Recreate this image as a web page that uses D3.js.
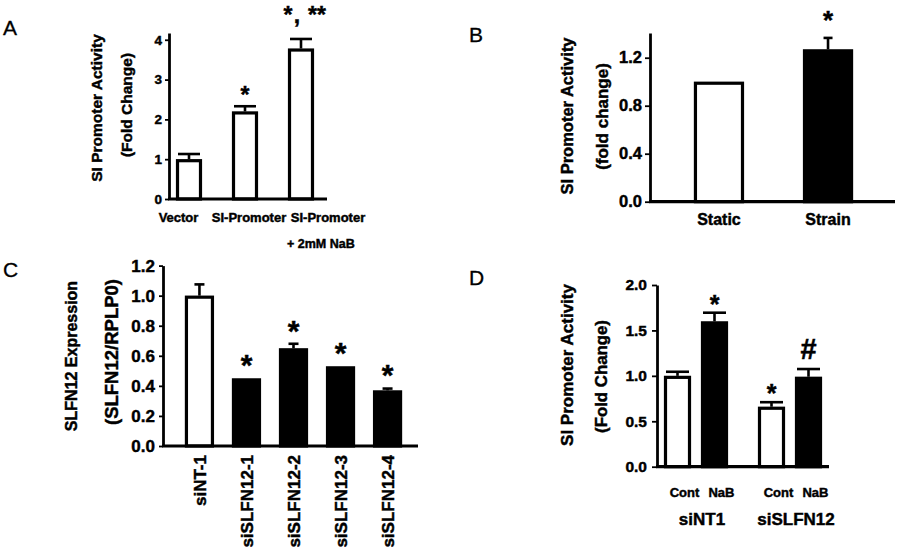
<!DOCTYPE html>
<html><head><meta charset="utf-8">
<script src="https://cdn.jsdelivr.net/npm/d3@7"></script>
<style>
html,body{margin:0;padding:0;background:#fff;}
text{font-family:"Liberation Sans",Arial,sans-serif;fill:#000;}
text.b{stroke:#000;stroke-width:0.45px;}
</style></head>
<body><svg id="chart" width="900" height="553"></svg>
<script>
// ---------- data ----------
// Panel A
const aCategories = ["Vector", "SI-Promoter", "SI-Promoter"];
const aSubLabels = ["", "", "+ 2mM NaB"];
const aValues = [1.0, 2.2, 3.78];
const aErrors = [0.13, 0.13, 0.24];
const aTicks = [0, 1, 2, 3, 4];
const aMarks = ["", "*", "*,**"];
// Panel B
const bCategories = ["Static", "Strain"];
const bValues = [1.0, 1.27];
const bErrors = [0, 0.095];
const bTicks = [0, 0.4, 0.8, 1.2];
const bFills = ["white", "black"];
const bMarks = ["", "*"];
// Panel C
const cCategories = ["siNT-1", "siSLFN12-1", "siSLFN12-2", "siSLFN12-3", "siSLFN12-4"];
const cValues = [1.0, 0.45, 0.65, 0.53, 0.37];
const cErrors = [0.075, 0, 0.03, 0, 0.012];
const cTicks = [0, 0.2, 0.4, 0.6, 0.8, 1.0, 1.2];
const cFills = ["white", "black", "black", "black", "black"];
const cMarks = ["", "*", "*", "*", "*"];
// Panel D
const dGroups = ["siNT1", "siSLFN12"];
const dConditions = ["Cont", "NaB"];
const dValues = {siNT1: [1.0, 1.6], siSLFN12: [0.66, 0.99]};
const dErrors = {siNT1: [0.045, 0.095], siSLFN12: [0.05, 0.085]};
const dMarks = {siNT1: ["", "*"], siSLFN12: ["*", "#"]};
const dTicks = [0, 0.5, 1.0, 1.5, 2.0];
const dFills = ["white", "black"];

// ---------- helpers ----------
const svg = d3.select("#chart");
const BOLD = "bold";

function letter(t, x, y) {
  svg.append("text").attr("x", x).attr("y", y).style("font-size", "21px")
    .style("stroke", "#000").style("stroke-width", "0.3px").text(t);
}
function vTitle(t, x, yc, fs) {
  svg.append("text").attr("class", "b").attr("transform", `translate(${x},${yc}) rotate(-90)`)
    .attr("text-anchor", "middle").style("font-size", fs + "px").style("font-weight", BOLD).text(t);
}
function hText(t, x, y, fs, anchor) {
  return svg.append("text").attr("class", "b").attr("x", x).attr("y", y).attr("text-anchor", anchor || "middle")
    .style("font-size", fs + "px").style("font-weight", BOLD).text(t);
}
function yAxis(y, x, ticks, fmt, fs, tickSize, pad) {
  const g = svg.append("g").attr("transform", `translate(${x},0)`)
    .call(d3.axisLeft(y).tickValues(ticks).tickFormat(fmt).tickSize(tickSize).tickSizeOuter(0).tickPadding(pad));
  g.select(".domain").attr("stroke", "#000").attr("stroke-width", 2.8);
  g.selectAll(".tick line").attr("stroke", "#000").attr("stroke-width", 1.8);
  g.selectAll(".tick text").attr("class", "b").style("font-size", fs + "px").style("font-weight", BOLD)
    .style("font-family", '"Liberation Sans",Arial,sans-serif').attr("fill", "#000");
  return g;
}
function xLine(y, x0, x1) {
  svg.append("line").attr("x1", x0 - 1).attr("x2", x1).attr("y1", y(0)).attr("y2", y(0))
    .attr("stroke", "#000").attr("stroke-width", 3.2);
}
function bar(x, w, y, v, fill) {
  svg.append("rect").attr("x", x + 1.5).attr("width", w - 3)
    .attr("y", y(v) + 1.5).attr("height", y(0) - y(v) - 1.5)
    .attr("fill", fill).attr("stroke", "#000").attr("stroke-width", 3.2);
}
function errBar(cx, y, v, e, cap) {
  if (!e) return;
  svg.append("line").attr("x1", cx).attr("x2", cx).attr("y1", y(v)).attr("y2", y(v + e))
    .attr("stroke", "#000").attr("stroke-width", 2.6);
  svg.append("line").attr("x1", cx - cap / 2).attr("x2", cx + cap / 2).attr("y1", y(v + e)).attr("y2", y(v + e))
    .attr("stroke", "#000").attr("stroke-width", 2.6);
}
function star(t, cx, yc, fs) {
  // baseline offset so that the glyph ink is centred on yc
  const off = t === "#" ? 0.35 : 0.56;
  hText(t, cx, yc + off * fs, fs);
}

// ---------- Panel A ----------
letter("A", 3, 35);
{
  const y = d3.scaleLinear().domain([0, 4.17]).range([199, 33]);
  const x = d3.scaleBand().domain(d3.range(aValues.length)).range([161, 329]).paddingInner(0.536).paddingOuter(0.268);
  yAxis(y, 169, aTicks, d3.format("d"), 13.5, 4, 3);
  aValues.forEach((v, i) => {
    bar(x(i), x.bandwidth(), y, v, "white");
    errBar(x(i) + x.bandwidth() / 2, y, v, aErrors[i], 22);
  });
  xLine(y, 169, 327);
  const labelX = [178.5, 249, 328];
  aCategories.forEach((c, i) => hText(c, labelX[i], 222, 13));
  hText(aSubLabels[2], 287, 248, 12.5, "start");
  // significance marks
  const cx1 = x(1) + x.bandwidth() / 2;
  star(aMarks[1], cx1, y(aValues[1] + aErrors[1]) - 16, 23);
  const cx2 = x(2) + x.bandwidth() / 2, top2 = y(aValues[2] + aErrors[2]);
  star("*", cx2 - 13, top2 - 29, 23);
  hText(",", cx2 - 4, top2 - 16, 23);
  star("**", cx2 + 16, top2 - 29, 23);
  vTitle("SI Promoter Activity", 102, 108, 15.5);
  vTitle("(Fold Change)", 131.5, 105, 15.5);
}

// ---------- Panel B ----------
letter("B", 469, 42);
{
  const y = d3.scaleLinear().domain([0, 1.406]).range([201.7, 33]);
  const x = d3.scaleBand().domain(bCategories).range([664.5, 882.5]).paddingInner(0.541).paddingOuter(0.27);
  yAxis(y, 650, bTicks, d3.format(".1f"), 16.5, 5, 3);
  bCategories.forEach((c, i) => {
    bar(x(c), x.bandwidth(), y, bValues[i], bFills[i]);
    errBar(x(c) + x.bandwidth() / 2, y, bValues[i], bErrors[i], 9);
    if (bMarks[i]) star(bMarks[i], x(c) + x.bandwidth() / 2, y(bValues[i] + bErrors[i]) - 23, 26);
  });
  xLine(y, 650, 895);
  bCategories.forEach(c => hText(c, x(c) + x.bandwidth() / 2, 225, 16));
  vTitle("SI Promoter Activity", 573, 116, 16.5);
  vTitle("(fold change)", 608, 116.5, 17);
}

// ---------- Panel C ----------
letter("C", 3, 277);
{
  const y = d3.scaleLinear().domain([0, 1.2]).range([446, 265.6]);
  const x = d3.scaleBand().domain(cCategories).range([176, 411]).paddingInner(0.383).paddingOuter(0.19);
  yAxis(y, 163, cTicks, d3.format(".1f"), 17, 4, 4);
  cCategories.forEach((c, i) => {
    const cx = x(c) + x.bandwidth() / 2;
    bar(x(c), x.bandwidth(), y, cValues[i], cFills[i]);
    errBar(cx, y, cValues[i], cErrors[i], 10);
    if (cMarks[i]) star(cMarks[i], cx, y(cValues[i] + cErrors[i]) - 20, 30);
  });
  xLine(y, 163, 418);
  cCategories.forEach(c => {
    svg.append("text").attr("class", "b").attr("transform", `translate(${x(c) + x.bandwidth() / 2 + 1},455) rotate(-90)`)
      .attr("text-anchor", "end").attr("dominant-baseline", "central")
      .style("font-size", "17px").style("font-weight", BOLD).text(c);
  });
  vTitle("SLFN12 Expression", 76.5, 356, 16);
  vTitle("(SLFN12/RPLP0)", 118, 352, 18.5);
}

// ---------- Panel D ----------
letter("D", 469, 285);
{
  const y = d3.scaleLinear().domain([0, 2.0]).range([466.7, 285]);
  const xg = d3.scaleBand().domain(dGroups).range([659, 847]).padding(0);
  const xc = d3.scaleBand().domain(dConditions).range([0, xg.bandwidth() * 74 / 94]).paddingInner(0.27).paddingOuter(0.135);
  yAxis(y, 657, dTicks, d3.format(".1f"), 15.5, 5, 5);
  dGroups.forEach(g => {
    dConditions.forEach((c, j) => {
      const x0 = xg(g) + xc(c), cx = x0 + xc.bandwidth() / 2;
      const v = dValues[g][j], e = dErrors[g][j];
      bar(x0, xc.bandwidth(), y, v, dFills[j]);
      errBar(cx, y, v, e, 23);
      const m = dMarks[g][j];
      if (m === "#") star(m, cx, y(v + e) - 20, 29);
      else if (m) star(m, cx, y(v + e) - 14, 25);
      hText(c, cx + 7, 496.5, 13);
    });
    const mid = xg(g) + xc("Cont") / 2 + xc("NaB") / 2 + xc.bandwidth() / 2;
    hText(g, mid + 6, 525, 17);
  });
  xLine(y, 657, 829);
  vTitle("SI Promoter Activity", 573, 365, 17);
  vTitle("(Fold Change)", 606.5, 376.5, 16.8);
}
</script></body></html>
